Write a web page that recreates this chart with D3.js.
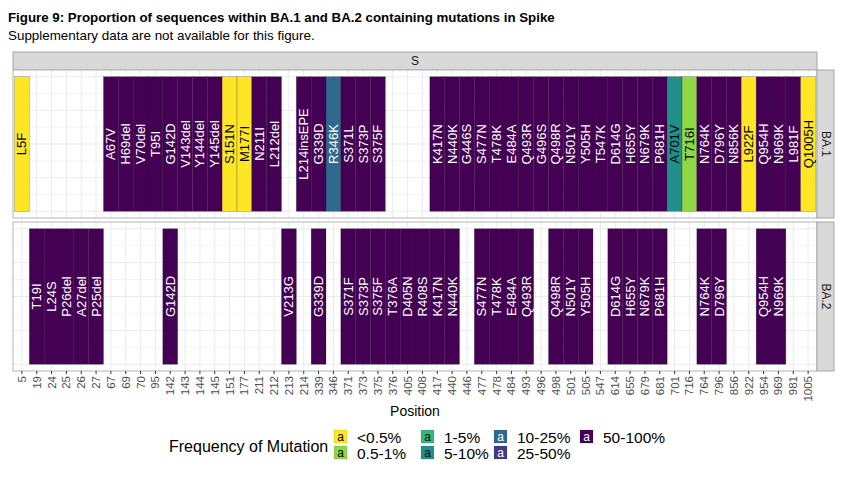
<!DOCTYPE html>
<html>
<head>
<meta charset="utf-8">
<script src="https://cdn.jsdelivr.net/npm/d3@7"></script>
<style>
  html, body { margin: 0; padding: 0; background: #fff; }
  svg { display: block; font-family: "Liberation Sans", Arial, Helvetica, sans-serif; }
</style>
</head>
<body>
<svg id="chart" width="849" height="484"></svg>
<script>
// ---- Data ----
const positions = ["5","19","24","25","26","27","67","69","70","95","142","143","144","145","151","177",
  "211","212","213","214","339","346","371","373","375","376","405","408","417","440","446","477",
  "478","484","493","496","498","501","505","547","614","655","679","681","701","716","764","796",
  "856","922","954","969","981","1005"];

const freqLevels = ["<0.5%","0.5-1%","1-5%","5-10%","10-25%","25-50%","50-100%"];
const freqColors = ["#FDE725","#8FD744","#35B779","#21908C","#31688E","#443A83","#440154"];
const freqTextColors = ["#000","#000","#000","#000","#fff","#fff","#fff"];

const lineages = ["BA.1","BA.2"];

// [position, mutation, frequency class]
const ba1Mutations = [
  ["5","L5F","<0.5%"],["67","A67V","50-100%"],["69","H69del","50-100%"],["70","V70del","50-100%"],
  ["95","T95I","50-100%"],["142","G142D","50-100%"],["143","V143del","50-100%"],["144","Y144del","50-100%"],
  ["145","Y145del","50-100%"],["151","S151N","<0.5%"],["177","M177I","<0.5%"],["211","N211I","50-100%"],
  ["212","L212del","50-100%"],["214","L214insEPE","50-100%"],["339","G339D","50-100%"],["346","R346K","10-25%"],
  ["371","S371L","50-100%"],["373","S373P","50-100%"],["375","S375F","50-100%"],["417","K417N","50-100%"],
  ["440","N440K","50-100%"],["446","G446S","50-100%"],["477","S477N","50-100%"],["478","T478K","50-100%"],
  ["484","E484A","50-100%"],["493","Q493R","50-100%"],["496","G496S","50-100%"],["498","Q498R","50-100%"],
  ["501","N501Y","50-100%"],["505","Y505H","50-100%"],["547","T547K","50-100%"],["614","D614G","50-100%"],
  ["655","H655Y","50-100%"],["679","N679K","50-100%"],["681","P681H","50-100%"],["701","A701V","5-10%"],
  ["716","T716I","0.5-1%"],["764","N764K","50-100%"],["796","D796Y","50-100%"],["856","N856K","50-100%"],
  ["922","L922F","<0.5%"],["954","Q954H","50-100%"],["969","N969K","50-100%"],["981","L981F","50-100%"],
  ["1005","Q1005H","<0.5%"]
];

const ba2Mutations = [
  ["19","T19I","50-100%"],["24","L24S","50-100%"],["25","P26del","50-100%"],["26","A27del","50-100%"],
  ["27","P25del","50-100%"],["142","G142D","50-100%"],["213","V213G","50-100%"],["339","G339D","50-100%"],
  ["371","S371F","50-100%"],["373","S373P","50-100%"],["375","S375F","50-100%"],["376","T376A","50-100%"],
  ["405","D405N","50-100%"],["408","R408S","50-100%"],["417","K417N","50-100%"],["440","N440K","50-100%"],
  ["477","S477N","50-100%"],["478","T478K","50-100%"],["484","E484A","50-100%"],["493","Q493R","50-100%"],
  ["498","Q498R","50-100%"],["501","N501Y","50-100%"],["505","Y505H","50-100%"],["614","D614G","50-100%"],
  ["655","H655Y","50-100%"],["679","N679K","50-100%"],["681","P681H","50-100%"],["764","N764K","50-100%"],
  ["796","D796Y","50-100%"],["954","Q954H","50-100%"],["969","N969K","50-100%"]
];

const titleText = "Figure 9: Proportion of sequences within BA.1 and BA.2 containing mutations in Spike";
const subtitleText = "Supplementary data are not available for this figure.";
const facetLabel = "S";
const xAxisTitle = "Position";
const legendTitle = "Frequency of Mutation";

// ---- Layout ----
const svg = d3.select("#chart");
const panelLeft = 13, panelRight = 817;
const panels = [
  { name: "BA.1", top: 70, bottom: 218, data: ba1Mutations },
  { name: "BA.2", top: 222, bottom: 371, data: ba2Mutations }
];
const stripTop = 52, stripBottom = 70;
const rStripLeft = 817, rStripRight = 834;

const x = d3.scaleBand().domain(positions).range([panelLeft, panelRight]).paddingInner(0).paddingOuter(0.1);
const color = d3.scaleOrdinal().domain(freqLevels).range(freqColors);
const textColor = d3.scaleOrdinal().domain(freqLevels).range(freqTextColors);

// Title
svg.append("text").attr("x", 8).attr("y", 22).attr("font-size", 13.3).attr("font-weight", "bold")
  .attr("fill", "#000").text(titleText);
svg.append("text").attr("x", 8).attr("y", 39.5).attr("font-size", 13.4).attr("fill", "#000").text(subtitleText);

// Top strip
svg.append("rect").attr("x", panelLeft).attr("y", stripTop).attr("width", panelRight - panelLeft)
  .attr("height", stripBottom - stripTop).attr("fill", "#d9d9d9").attr("stroke", "#a6a6a6").attr("stroke-width", 1);
svg.append("text").attr("x", (panelLeft + panelRight) / 2).attr("y", (stripTop + stripBottom) / 2)
  .attr("text-anchor", "middle").attr("dominant-baseline", "central").attr("font-size", 12).attr("fill", "#1a1a1a")
  .text(facetLabel);

panels.forEach(p => {
  const y = d3.scaleLinear().domain([0.45, 1.55]).range([p.bottom, p.top]);
  const g = svg.append("g");
  g.append("rect").attr("x", panelLeft).attr("y", p.top).attr("width", panelRight - panelLeft)
    .attr("height", p.bottom - p.top).attr("fill", "#fff");
  // horizontal grid (major + minor)
  const hb = d3.range(0.5, 1.5001, 0.125);
  g.selectAll("line.h").data(hb).join("line")
    .attr("x1", panelLeft).attr("x2", panelRight)
    .attr("y1", d => y(d)).attr("y2", d => y(d))
    .attr("stroke", "#ebebeb").attr("stroke-width", (d, i) => i % 2 === 0 ? 1 : 0.5);
  // vertical grid
  g.selectAll("line.v").data(positions).join("line")
    .attr("x1", d => x(d) + x.bandwidth() / 2).attr("x2", d => x(d) + x.bandwidth() / 2)
    .attr("y1", p.top).attr("y2", p.bottom)
    .attr("stroke", "#ebebeb").attr("stroke-width", 1);
  // tiles
  g.selectAll("rect.tile").data(p.data).join("rect")
    .attr("x", d => x(d[0])).attr("width", x.bandwidth())
    .attr("y", y(1.5)).attr("height", y(0.5) - y(1.5))
    .attr("fill", d => color(d[2]))
    .attr("stroke", "rgba(40,20,50,0.45)").attr("stroke-width", 0.5);
  // labels
  const cy = y(1);
  g.selectAll("text.lab").data(p.data).join("text")
    .attr("transform", d => `translate(${x(d[0]) + x.bandwidth() / 2},${cy}) rotate(-90)`)
    .attr("text-anchor", "middle").attr("dominant-baseline", "central")
    .attr("font-size", 13).attr("fill", d => textColor(d[2]))
    .text(d => d[1]);
  // border
  g.append("rect").attr("x", panelLeft).attr("y", p.top).attr("width", panelRight - panelLeft)
    .attr("height", p.bottom - p.top).attr("fill", "none").attr("stroke", "#b3b3b3").attr("stroke-width", 1);
  // right strip
  g.append("rect").attr("x", rStripLeft).attr("y", p.top).attr("width", rStripRight - rStripLeft)
    .attr("height", p.bottom - p.top).attr("fill", "#d9d9d9").attr("stroke", "#a6a6a6").attr("stroke-width", 1);
  g.append("text")
    .attr("transform", `translate(${(rStripLeft + rStripRight) / 2},${(p.top + p.bottom) / 2}) rotate(90)`)
    .attr("text-anchor", "middle").attr("dominant-baseline", "central").attr("font-size", 12).attr("fill", "#1a1a1a")
    .text(p.name);
});

// X axis (bottom of last panel)
const last = panels[panels.length - 1];
const axisG = svg.append("g").attr("transform", `translate(0,${last.bottom})`)
  .call(d3.axisBottom(x).tickSize(3).tickPadding(3));
axisG.select(".domain").remove();
axisG.selectAll(".tick line").attr("stroke", "#333").attr("stroke-width", 1);
axisG.selectAll(".tick text")
  .attr("transform", "rotate(-90)")
  .attr("x", -5).attr("y", 0).attr("dy", null)
  .attr("text-anchor", "end").attr("dominant-baseline", "central")
  .attr("font-size", 11.5).attr("fill", "#4d4d4d")
  .attr("font-family", "\"Liberation Sans\", Arial, sans-serif");

svg.append("text").attr("x", (panelLeft + panelRight) / 2).attr("y", 415.5)
  .attr("text-anchor", "middle").attr("font-size", 14).attr("fill", "#000").text(xAxisTitle);

// Legend
svg.append("text").attr("x", 169).attr("y", 451.5).attr("font-size", 16).attr("fill", "#000").text(legendTitle);
const colX = [334, 421, 494, 580];
const rowY = [430, 446];
const keyW = 13, keyH = 13;
freqLevels.forEach((lev, i) => {
  const col = Math.floor(i / 2), row = i % 2;
  const kx = colX[col], ky = rowY[row];
  const kg = svg.append("g");
  kg.append("rect").attr("x", kx).attr("y", ky).attr("width", keyW).attr("height", keyH)
    .attr("fill", color(lev)).attr("stroke", "rgba(40,20,50,0.2)").attr("stroke-width", 0.5);
  kg.append("text").attr("x", kx + keyW / 2).attr("y", ky + keyH / 2 + 0.5)
    .attr("text-anchor", "middle").attr("dominant-baseline", "central")
    .attr("font-size", 12).attr("fill", textColor(lev)).text("a");
  kg.append("text").attr("x", kx + 23).attr("y", ky + keyH / 2 + 0.5)
    .attr("dominant-baseline", "central").attr("font-size", 15.5).attr("fill", "#000").text(lev);
});
</script>
</body>
</html>
